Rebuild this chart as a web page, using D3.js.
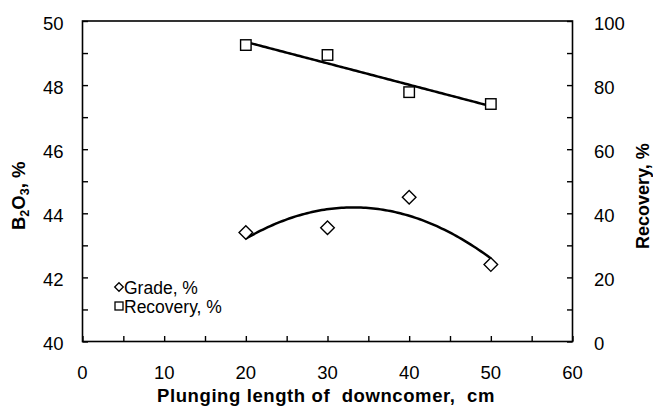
<!DOCTYPE html>
<html><head><meta charset="utf-8">
<script src="https://cdn.jsdelivr.net/npm/d3@7"></script>
<style>
body{margin:0;background:#fff;}
svg text{font-family:"Liberation Sans",Arial,sans-serif;fill:#000;}
</style></head>
<body><svg id="c" width="653" height="408"></svg>
<script>
// Data
const plungingLength = [20, 30, 40, 50];
const gradeB2O3 = [43.4, 43.55, 44.5, 42.4];
const recovery = [92.5, 89.4, 77.8, 74.1];
const xTickLabels = [0, 10, 20, 30, 40, 50, 60];
const yLeftTickLabels = [40, 42, 44, 46, 48, 50];
const yRightTickLabels = [0, 20, 40, 60, 80, 100];

const svg = d3.select("#c");
const L = 82.5, R = 572.5, T = 21, B = 341.5;
const x = d3.scaleLinear().domain([0, 60]).range([L, R]);
const yL = d3.scaleLinear().domain([40, 50]).range([B, T]);
const yR = d3.scaleLinear().domain([0, 100]).range([B, T]);

// least squares fits (as chart trendlines)
function polyfit(xs, ys, deg) {
  const n = deg + 1;
  const A = Array.from({length: n}, () => new Array(n + 1).fill(0));
  for (let i = 0; i < xs.length; i++) {
    for (let r = 0; r < n; r++) {
      for (let c = 0; c < n; c++) A[r][c] += Math.pow(xs[i], r + c);
      A[r][n] += ys[i] * Math.pow(xs[i], r);
    }
  }
  for (let i = 0; i < n; i++) {
    let m = i;
    for (let k = i + 1; k < n; k++) if (Math.abs(A[k][i]) > Math.abs(A[m][i])) m = k;
    [A[i], A[m]] = [A[m], A[i]];
    for (let k = i + 1; k < n; k++) {
      const f = A[k][i] / A[i][i];
      for (let j = i; j <= n; j++) A[k][j] -= f * A[i][j];
    }
  }
  const co = new Array(n).fill(0);
  for (let i = n - 1; i >= 0; i--) {
    let s = A[i][n];
    for (let j = i + 1; j < n; j++) s -= A[i][j] * co[j];
    co[i] = s / A[i][i];
  }
  return xv => co.reduce((acc, c, p) => acc + c * Math.pow(xv, p), 0);
}
const gradeFit = polyfit(plungingLength, gradeB2O3, 2);
const recFit = polyfit(plungingLength, recovery, 1);
const x0 = d3.min(plungingLength), x1 = d3.max(plungingLength);
const samples = d3.range(0, 101).map(i => x0 + (x1 - x0) * i / 100);

// frame
svg.append("rect").attr("x", L).attr("y", T).attr("width", R - L).attr("height", B - T)
  .attr("fill", "none").attr("stroke", "#000").attr("stroke-width", 1.6);

// axes ticks (inside)
const tl = 5.5;
const gx = svg.append("g").attr("transform", `translate(0,${B})`)
  .call(d3.axisTop(x).tickValues(d3.range(0, 61, 5)).tickSize(tl).tickFormat(""));
const gl = svg.append("g").attr("transform", `translate(${L},0)`)
  .call(d3.axisRight(yL).tickValues(d3.range(40, 51, 1)).tickSize(tl).tickFormat(""));
const gr = svg.append("g").attr("transform", `translate(${R},0)`)
  .call(d3.axisLeft(yR).tickValues(d3.range(0, 101, 10)).tickSize(tl).tickFormat(""));
[gx, gl, gr].forEach(g => {
  g.select(".domain").remove();
  g.selectAll("line").attr("stroke", "#000").attr("stroke-width", 1.4);
});

// tick labels
const fs = 18.5;
svg.append("g").selectAll("text").data(xTickLabels).join("text")
  .attr("x", d => x(d)).attr("y", 378.5).attr("text-anchor", "middle")
  .attr("font-size", fs).text(d => d);
svg.append("g").selectAll("text").data(yLeftTickLabels).join("text")
  .attr("x", 63.5).attr("y", d => yL(d) + 8.5).attr("text-anchor", "end")
  .attr("font-size", fs).text(d => d);
svg.append("g").selectAll("text").data(yRightTickLabels).join("text")
  .attr("x", 594).attr("y", d => yR(d) + 8.5).attr("text-anchor", "start")
  .attr("font-size", fs).text(d => d);

// axis titles
svg.append("text").attr("x", 326).attr("y", 402).attr("text-anchor", "middle")
  .attr("font-size", 18.5).attr("font-weight", "bold").attr("letter-spacing", 0.6)
  .attr("xml:space", "preserve")
  .text("Plunging length of  downcomer,  cm");
const lt = svg.append("text").attr("transform", "translate(25,230) rotate(-90)")
  .attr("font-size", 18.5).attr("font-weight", "bold");
lt.append("tspan").text("B");
lt.append("tspan").attr("font-size", 12.5).attr("dy", 4).text("2");
lt.append("tspan").attr("dy", -4).text("O");
lt.append("tspan").attr("font-size", 12.5).attr("dy", 4).text("3");
lt.append("tspan").attr("dy", -4).text(", %");
svg.append("text").attr("transform", "translate(649,249) rotate(-90)")
  .attr("font-size", 18).attr("font-weight", "bold").text("Recovery, %");

// trendlines
svg.append("path").datum(samples)
  .attr("d", d3.line().x(d => x(d)).y(d => yL(gradeFit(d))))
  .attr("fill", "none").attr("stroke", "#000").attr("stroke-width", 2.5);
svg.append("path").datum(samples)
  .attr("d", d3.line().x(d => x(d)).y(d => yR(recFit(d))))
  .attr("fill", "none").attr("stroke", "#000").attr("stroke-width", 2.5);

// markers
const ds = 6.8;
svg.append("g").selectAll("path").data(plungingLength).join("path")
  .attr("transform", (d, i) => `translate(${x(d)},${yL(gradeB2O3[i])})`)
  .attr("d", `M0,${-ds}L${ds},0L0,${ds}L${-ds},0Z`)
  .attr("fill", "#fff").attr("stroke", "#000").attr("stroke-width", 1.4);
const sq = 10.5;
svg.append("g").selectAll("rect").data(plungingLength).join("rect")
  .attr("x", d => x(d) - sq / 2).attr("y", (d, i) => yR(recovery[i]) - sq / 2)
  .attr("width", sq).attr("height", sq)
  .attr("fill", "#fff").attr("stroke", "#000").attr("stroke-width", 1.4);

// legend
const lg = svg.append("g");
const lds = 4.3;
lg.append("path").attr("transform", "translate(119,287)")
  .attr("d", `M0,${-lds}L${lds},0L0,${lds}L${-lds},0Z`)
  .attr("fill", "#fff").attr("stroke", "#000").attr("stroke-width", 1.3);
lg.append("rect").attr("x", 115).attr("y", 302).attr("width", 8).attr("height", 8)
  .attr("fill", "#fff").attr("stroke", "#000").attr("stroke-width", 1.3);
lg.append("text").attr("x", 124).attr("y", 294).attr("font-size", 17.5).text("Grade, %");
lg.append("text").attr("x", 124).attr("y", 313).attr("font-size", 17.5).text("Recovery, %");
</script></body></html>
